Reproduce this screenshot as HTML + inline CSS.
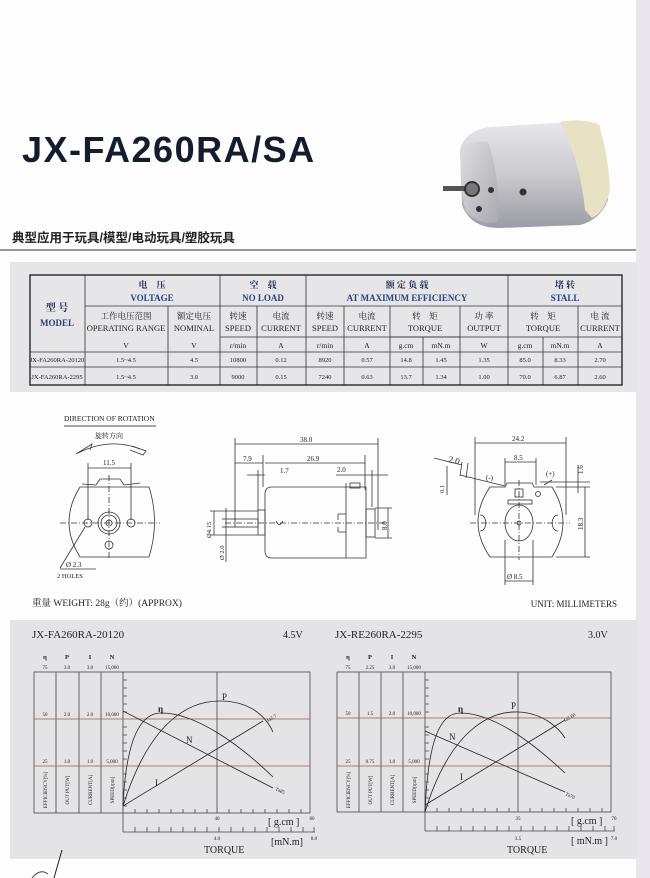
<!DOCTYPE html>
<html><head><meta charset="utf-8"><style>
html,body{margin:0;padding:0;background:#fff;}
svg{display:block;font-family:"Liberation Serif","Noto Serif CJK SC",serif;}
.s{font-family:"Liberation Sans","Noto Sans CJK SC",sans-serif;}
</style></head><body>
<svg width="650" height="878" viewBox="0 0 650 878" xmlns="http://www.w3.org/2000/svg">
<rect x="0" y="0" width="650" height="878" fill="#fdfdfd"/>
<rect x="636" y="0" width="14" height="878" fill="#e9e6ee"/>
<!-- title -->
<text x="22" y="162" class="s" font-size="36" font-weight="bold" fill="#141c2e" letter-spacing="1.5">JX-FA260RA/SA</text>
<text x="12" y="242" class="s" font-size="12.5" font-weight="bold" fill="#222">典型应用于玩具/模型/电动玩具/塑胶玩具</text>
<line x1="0" y1="250" x2="636" y2="250" stroke="#777" stroke-width="1.5"/>
<!-- motor photo -->
<defs>
<linearGradient id="mg" x1="0" y1="0" x2="0" y2="1"><stop offset="0" stop-color="#e8e8ec"/><stop offset="0.5" stop-color="#c9c9ce"/><stop offset="1" stop-color="#9c9ca4"/></linearGradient>
<linearGradient id="mf" x1="0" y1="0" x2="1" y2="1"><stop offset="0" stop-color="#dedee2"/><stop offset="1" stop-color="#a9a9b0"/></linearGradient>
</defs>
<path d="M460,150 Q465,130 490,127 L570,122 L600,125 L608,200 Q600,220 580,225 L500,228 Q470,228 462,205 Z" fill="url(#mg)"/>
<path d="M560,122 Q580,118 598,124 Q608,150 610,190 Q605,212 592,218 L585,210 Q580,160 560,122 Z" fill="#e7e2c4"/>
<path d="M462,150 Q470,140 488,142 Q500,175 498,222 Q480,226 466,212 Q458,185 462,150 Z" fill="url(#mf)"/>
<rect x="443" y="186" width="28" height="5" fill="#555"/>
<circle cx="472" cy="189" r="7" fill="#777" stroke="#333" stroke-width="2"/>
<circle cx="491" cy="190" r="3" fill="#333"/><circle cx="479" cy="209" r="3" fill="#333"/><circle cx="523" cy="192" r="3.5" fill="#333"/>
<!-- table -->
<rect x="10" y="262" width="627" height="130" fill="#e6e6e9"/>
<g fill="none" stroke="#333" stroke-width="0.8">
<rect x="30" y="275" width="592" height="110" stroke-width="1.5"/>
<line x1="85" y1="275" x2="85" y2="385"/>
<line x1="220" y1="275" x2="220" y2="385"/><line x1="306" y1="275" x2="306" y2="385"/><line x1="508" y1="275" x2="508" y2="385"/>
<line x1="85" y1="306" x2="622" y2="306"/>
<line x1="168" y1="306" x2="168" y2="385"/><line x1="257" y1="306" x2="257" y2="385"/><line x1="344" y1="306" x2="344" y2="385"/><line x1="390" y1="306" x2="390" y2="385"/>
<line x1="460" y1="306" x2="460" y2="385"/><line x1="578" y1="306" x2="578" y2="385"/>
<line x1="423" y1="337" x2="423" y2="385"/><line x1="543" y1="337" x2="543" y2="385"/>
<line x1="220" y1="337" x2="622" y2="337"/><line x1="390" y1="337" x2="460" y2="337"/>
<line x1="30" y1="352" x2="622" y2="352"/><line x1="30" y1="367" x2="622" y2="367"/>
</g>
<g font-size="9" text-anchor="middle" fill="#1e2a55" font-weight="bold">
<text x="152" y="288">电　压</text><text x="152" y="301" fill="#2b3f80">VOLTAGE</text>
<text x="263" y="288">空　载</text><text x="263" y="301" fill="#2b3f80">NO LOAD</text>
<text x="407" y="288">额 定 负 载</text><text x="407" y="301" fill="#2b3f80">AT MAXIMUM EFFICIENCY</text>
<text x="565" y="288">堵 转</text><text x="565" y="301" fill="#2b3f80">STALL</text>
<text x="57" y="311" font-size="10">型 号</text><text x="57" y="326" fill="#2b3f80">MODEL</text>
</g>
<g font-size="8.5" text-anchor="middle" fill="#222">
<text x="126" y="319">工作电压范围</text><text x="126" y="331">OPERATING RANGE</text>
<text x="194" y="319">额定电压</text><text x="194" y="331">NOMINAL</text>
<text x="238" y="319">转速</text><text x="238" y="331">SPEED</text>
<text x="281" y="319">电流</text><text x="281" y="331">CURRENT</text>
<text x="325" y="319">转速</text><text x="325" y="331">SPEED</text>
<text x="367" y="319">电流</text><text x="367" y="331">CURRENT</text>
<text x="425" y="319">转　矩</text><text x="425" y="331">TORQUE</text>
<text x="484" y="319">功 率</text><text x="484" y="331">OUTPUT</text>
<text x="543" y="319">转　矩</text><text x="543" y="331">TORQUE</text>
<text x="600" y="319">电 流</text><text x="600" y="331">CURRENT</text>
<g font-size="7.5"><text x="126" y="348">V</text><text x="194" y="348">V</text><text x="238" y="348">r/min</text><text x="281" y="348">A</text><text x="325" y="348">r/min</text><text x="367" y="348">A</text><text x="406" y="348">g.cm</text><text x="441" y="348">mN.m</text><text x="484" y="348">W</text><text x="525" y="348">g.cm</text><text x="560" y="348">mN.m</text><text x="600" y="348">A</text></g>
<g font-size="6.5"><text x="57" y="362">JX-FA260RA-20120</text><text x="126" y="362">1.5~4.5</text><text x="194" y="362">4.5</text><text x="238" y="362">10800</text><text x="281" y="362">0.12</text><text x="325" y="362">8920</text><text x="367" y="362">0.57</text><text x="406" y="362">14.8</text><text x="441" y="362">1.45</text><text x="484" y="362">1.35</text><text x="525" y="362">85.0</text><text x="560" y="362">8.33</text><text x="600" y="362">2.70</text>
<text x="57" y="379">JX-FA260RA-2295</text><text x="126" y="379">1.5~4.5</text><text x="194" y="379">3.0</text><text x="238" y="379">9000</text><text x="281" y="379">0.15</text><text x="325" y="379">7240</text><text x="367" y="379">0.63</text><text x="406" y="379">13.7</text><text x="441" y="379">1.34</text><text x="484" y="379">1.00</text><text x="525" y="379">70.0</text><text x="560" y="379">6.87</text><text x="600" y="379">2.60</text></g>
</g>
<!-- drawings -->
<g fill="none" stroke="#333" stroke-width="0.8" font-size="7" >
<text x="64" y="421" stroke="none" fill="#222" font-size="7.5">DIRECTION OF ROTATION</text>
<line x1="64" y1="426" x2="156" y2="426" stroke="#888" stroke-width="1.5"/>
<text x="95" y="438" stroke="none" fill="#222" font-size="7">旋转方向</text>
<path d="M78,453 Q110,437 140,449"/><path d="M76,454 L92,444 L90,450"/><path d="M132,446 L146,451 L143,455 L130,450"/>
<path d="M80,487 L149,487 Q160,522 149,557 L80,557 Q58,522 80,487 Z"/>
<path d="M96,485 L100,479 L120,479 L124,485"/><line x1="82" y1="484" x2="96" y2="485"/><line x1="124" y1="485" x2="140" y2="483"/>
<circle cx="88" cy="523" r="4"/><circle cx="131" cy="523" r="4"/>
<circle cx="109" cy="523" r="11"/><circle cx="109" cy="523" r="8"/><circle cx="109" cy="523" r="3"/>
<circle cx="109" cy="545" r="4"/>
<line x1="60" y1="523" x2="160" y2="523" stroke-dasharray="6,2,1,2"/><line x1="109" y1="475" x2="109" y2="560" stroke-dasharray="6,2,1,2"/>
<line x1="88" y1="463" x2="88" y2="520"/><line x1="131" y1="463" x2="131" y2="520"/><line x1="88" y1="468" x2="131" y2="468"/>
<text x="103" y="465" stroke="none" fill="#222">11.5</text>
<line x1="85" y1="527" x2="60" y2="568"/><line x1="60" y1="569" x2="96" y2="569"/>
<text x="66" y="567" stroke="none" fill="#222">Ø 2.3</text><text x="57" y="578" stroke="none" fill="#222" font-size="6.5">2 HOLES</text>
<!-- side -->
<line x1="235" y1="438" x2="235" y2="520"/><line x1="378" y1="438" x2="378" y2="530"/>
<line x1="235" y1="444" x2="378" y2="444"/><text x="300" y="442" stroke="none" fill="#222">38.0</text>
<line x1="235" y1="463" x2="263" y2="463"/><text x="243" y="461" stroke="none" fill="#222">7.9</text>
<line x1="265" y1="463" x2="365" y2="463"/><text x="307" y="461" stroke="none" fill="#222">26.9</text>
<line x1="263" y1="455" x2="263" y2="487"/><line x1="365" y1="455" x2="365" y2="490"/>
<line x1="247" y1="475" x2="265" y2="475"/><text x="280" y="473" stroke="none" fill="#222">1.7</text><line x1="258" y1="470" x2="258" y2="510"/>
<line x1="336" y1="475" x2="388" y2="475"/><text x="337" y="472" stroke="none" fill="#222">2.0</text><line x1="372" y1="470" x2="372" y2="507"/>
<path d="M272,487 L366,487 L366,558 L272,558 Q265,558 265,551 L265,494 Q265,487 272,487 Z"/>
<line x1="346" y1="483" x2="346" y2="558"/><rect x="350" y="483" width="10" height="5"/>
<rect x="235" y="519" width="23" height="8"/><rect x="258" y="510" width="7" height="25"/>
<rect x="366" y="509" width="9" height="28"/><path d="M338,514 L346,514 M338,532 L346,532 M338,514 L338,520 M338,527 L338,532"/>
<path d="M276,521 Q279,528 283,521"/>
<line x1="225" y1="523" x2="385" y2="523" stroke-dasharray="6,2,1,2"/>
<line x1="210" y1="511" x2="258" y2="511"/><line x1="210" y1="535" x2="258" y2="535"/><line x1="214" y1="511" x2="214" y2="535"/>
<text x="0" y="0" stroke="none" fill="#222" font-size="6.5" transform="translate(211,538) rotate(-90)">Ø4.15</text>
<line x1="222" y1="519" x2="235" y2="519"/><line x1="222" y1="527" x2="235" y2="527"/><line x1="226" y1="508" x2="226" y2="562"/>
<text x="0" y="0" stroke="none" fill="#222" font-size="6.5" transform="translate(224,560) rotate(-90)">Ø 2.0</text>
<line x1="375" y1="508" x2="392" y2="508"/><line x1="375" y1="538" x2="392" y2="538"/><line x1="388" y1="508" x2="388" y2="538"/>
<text x="0" y="0" stroke="none" fill="#222" transform="translate(387,530) rotate(-90)">8.0</text>
<!-- right end -->
<path d="M490,487 L505,487 L507,483 L532,483 L534,487 L552,487 Q574,522 552,557 L490,557 Q466,522 490,487 Z"/>
<line x1="475" y1="437" x2="475" y2="515"/><line x1="566" y1="437" x2="566" y2="515"/>
<line x1="475" y1="443" x2="566" y2="443"/><text x="512" y="441" stroke="none" fill="#222">24.2</text>
<line x1="505" y1="458" x2="505" y2="485"/><line x1="536" y1="458" x2="536" y2="485"/><line x1="505" y1="462" x2="536" y2="462"/><text x="514" y="460" stroke="none" fill="#222">8.5</text>
<line x1="460" y1="475" x2="505" y2="486"/><line x1="544" y1="485" x2="552" y2="480"/>
<text x="486" y="480" stroke="none" fill="#222">(-)</text><text x="546" y="476" stroke="none" fill="#222">(+)</text>
<line x1="434" y1="458" x2="462" y2="465"/><text x="448" y="462" stroke="none" fill="#222" font-size="9" transform="rotate(12 448 462)">2.0</text>
<line x1="462" y1="462" x2="460" y2="476"/><line x1="468" y1="463" x2="466" y2="478"/>
<line x1="447" y1="466" x2="447" y2="495"/><text x="0" y="0" stroke="none" fill="#222" font-size="6.5" transform="translate(444,493) rotate(-90)">0.1</text>
<rect x="515" y="489" width="8" height="8"/><rect x="508" y="500" width="24" height="4"/><circle cx="538" cy="494" r="2.5"/>
<ellipse cx="519" cy="523" rx="14" ry="18"/><circle cx="519" cy="523" r="2"/>
<path d="M480,515 Q485,515 486,523 Q485,531 480,531"/><path d="M558,515 Q553,515 552,523 Q553,531 558,531"/>
<line x1="470" y1="523" x2="570" y2="523" stroke-dasharray="6,2,1,2"/><line x1="519" y1="480" x2="519" y2="560" stroke-dasharray="6,2,1,2"/>
<line x1="505" y1="540" x2="505" y2="585"/><line x1="533" y1="540" x2="533" y2="585"/><line x1="505" y1="581" x2="533" y2="581"/>
<text x="507" y="579" stroke="none" fill="#222">Ø 8.5</text>
<line x1="540" y1="482" x2="590" y2="482"/><line x1="556" y1="487" x2="590" y2="487"/><line x1="556" y1="557" x2="590" y2="557"/>
<line x1="585" y1="487" x2="585" y2="557"/><line x1="578" y1="465" x2="578" y2="493"/>
<text x="0" y="0" stroke="none" fill="#222" transform="translate(583,530) rotate(-90)">18.3</text>
<text x="0" y="0" stroke="none" fill="#222" transform="translate(583,474) rotate(-90)">1.6</text>
</g>
<text x="32" y="606" font-size="9.5" fill="#222">重量 WEIGHT: 28g（约）(APPROX)</text>
<text x="617" y="607" font-size="9" fill="#222" text-anchor="end">UNIT: MILLIMETERS</text>
<!-- charts -->
<rect x="10" y="620" width="627" height="239" fill="#e4e4e6"/>
<g id="c1">
<text x="32" y="638" font-size="11" fill="#222">JX-FA260RA-20120</text><text x="283" y="638" font-size="10" fill="#222">4.5V</text>
<g fill="none" stroke="#444" stroke-width="0.8">
<rect x="34" y="672" width="276" height="141"/>
<line x1="56" y1="672" x2="56" y2="813"/><line x1="79" y1="672" x2="79" y2="813"/><line x1="101" y1="672" x2="101" y2="813"/><line x1="123" y1="672" x2="123" y2="832"/>
<line x1="34" y1="719" x2="310" y2="719" stroke="#9a5a5a"/><line x1="34" y1="766" x2="310" y2="766" stroke="#9a5a5a"/>
<line x1="217" y1="672" x2="217" y2="813"/>
<line x1="123" y1="832" x2="315" y2="832"/>
<path d="M123,711 L273,788 M123,806 L263,721 M123,806 C126,740 140,714 160,713 C195,712 240,745 273,777 M123,806 C150,720 190,700 222,701 C250,702 265,715 273,732" stroke="#222"/>
<path d="M123,680h4M123,688h4M123,696h4M123,704h4M123,712h4M123,727h4M123,735h4M123,743h4M123,751h4M123,759h4M123,774h4M123,782h4M123,790h4M123,798h4M123,806h4"/>
<path d="M135,813v-4M147,813v-4M159,813v-4M171,813v-4M183,813v-4M195,813v-4M207,813v-4M229,813v-4M241,813v-4M253,813v-4M265,813v-4M277,813v-4M289,813v-4M301,813v-4"/>
<path d="M135,832v-5M147,832v-5M159,832v-5M171,832v-5M183,832v-5M195,832v-5M207,832v-5M219,832v-5M231,832v-5M243,832v-5M255,832v-5M267,832v-5M279,832v-5M291,832v-5M303,832v-5M314,832v-5"/>
</g>
<g font-size="5" fill="#222" text-anchor="middle">
<text x="45" y="659" font-size="6.5" font-weight="bold">η</text><text x="67" y="659" font-size="6.5" font-weight="bold">P</text><text x="90" y="659" font-size="6.5" font-weight="bold">I</text><text x="112" y="659" font-size="6.5" font-weight="bold">N</text>
<text x="45" y="669">75</text><text x="67" y="669">3.0</text><text x="90" y="669">3.0</text><text x="112" y="669">15,000</text>
<text x="45" y="716">50</text><text x="67" y="716">2.0</text><text x="90" y="716">2.0</text><text x="112" y="716">10,000</text>
<text x="45" y="763">25</text><text x="67" y="763">1.0</text><text x="90" y="763">1.0</text><text x="112" y="763">5,000</text>
<text transform="translate(47,790) rotate(-90)">EFFICIENCY[%]</text><text transform="translate(69,790) rotate(-90)">OUT PUT[W]</text><text transform="translate(92,790) rotate(-90)">CURRENT[A]</text><text transform="translate(114,790) rotate(-90)">SPEED[rpm]</text>
<text x="217" y="820">40</text><text x="217" y="840">4.0</text><text x="312" y="820">80</text><text x="314" y="840">8.0</text>
</g>
<g font-size="9" fill="#222"><text x="158" y="712" font-weight="bold">η</text><text x="222" y="700">P</text><text x="186" y="743">N</text><text x="155" y="786">I</text>
<text x="268" y="722" font-size="5" transform="rotate(-30 268 722)">Ia2.7</text><text x="275" y="790" font-size="5" transform="rotate(25 275 790)">Ta85</text>
<text x="268" y="825" font-size="10">[ g.cm ]</text><text x="271" y="845" font-size="10">[mN.m]</text><text x="204" y="853" font-size="10">TORQUE</text></g>
</g>
<g id="c2">
<text x="335" y="638" font-size="11" fill="#222">JX-RE260RA-2295</text><text x="588" y="638" font-size="10" fill="#222">3.0V</text>
<g fill="none" stroke="#444" stroke-width="0.8">
<rect x="337" y="672" width="274" height="140"/>
<line x1="359" y1="672" x2="359" y2="812"/><line x1="381" y1="672" x2="381" y2="812"/><line x1="403" y1="672" x2="403" y2="812"/><line x1="425" y1="672" x2="425" y2="831"/>
<line x1="337" y1="718" x2="611" y2="718" stroke="#9a5a5a"/><line x1="337" y1="766" x2="611" y2="766" stroke="#9a5a5a"/>
<line x1="518" y1="672" x2="518" y2="812"/>
<line x1="425" y1="831" x2="615" y2="831"/>
<path d="M425,731 L565,792 M425,805 L565,720 M425,812 C428,740 440,713 460,713 C495,713 535,745 565,773 M425,812 C450,730 490,711 518,712 C545,713 560,730 565,738" stroke="#222"/>
<path d="M425,680h4M425,688h4M425,696h4M425,704h4M425,712h4M425,727h4M425,735h4M425,743h4M425,751h4M425,759h4M425,774h4M425,782h4M425,790h4M425,798h4M425,806h4"/>
<path d="M437,812v-4M449,812v-4M461,812v-4M473,812v-4M485,812v-4M497,812v-4M509,812v-4M530,812v-4M542,812v-4M554,812v-4M566,812v-4M578,812v-4M590,812v-4M602,812v-4"/>
<path d="M437,831v-5M449,831v-5M461,831v-5M473,831v-5M485,831v-5M497,831v-5M509,831v-5M521,831v-5M533,831v-5M545,831v-5M557,831v-5M569,831v-5M581,831v-5M593,831v-5M605,831v-5M614,831v-5"/>
</g>
<g font-size="5" fill="#222" text-anchor="middle">
<text x="348" y="659" font-size="6.5" font-weight="bold">η</text><text x="370" y="659" font-size="6.5" font-weight="bold">P</text><text x="392" y="659" font-size="6.5" font-weight="bold">I</text><text x="414" y="659" font-size="6.5" font-weight="bold">N</text>
<text x="348" y="669">75</text><text x="370" y="669">2.25</text><text x="392" y="669">3.0</text><text x="414" y="669">15,000</text>
<text x="348" y="715">50</text><text x="370" y="715">1.5</text><text x="392" y="715">2.0</text><text x="414" y="715">10,000</text>
<text x="348" y="763">25</text><text x="370" y="763">0.75</text><text x="392" y="763">1.0</text><text x="414" y="763">5,000</text>
<text transform="translate(350,790) rotate(-90)">EFFICIENCY[%]</text><text transform="translate(372,790) rotate(-90)">OUT PUT[W]</text><text transform="translate(394,790) rotate(-90)">CURRENT[A]</text><text transform="translate(416,790) rotate(-90)">SPEED[rpm]</text>
<text x="518" y="820">35</text><text x="518" y="840">3.5</text><text x="614" y="820">70</text><text x="614" y="840">7.0</text>
</g>
<g font-size="9" fill="#222"><text x="458" y="712" font-weight="bold">η</text><text x="511" y="709">P</text><text x="449" y="740">N</text><text x="460" y="780">I</text>
<text x="565" y="722" font-size="5" transform="rotate(-30 565 722)">Ia2.60</text><text x="565" y="795" font-size="5" transform="rotate(25 565 795)">Ta70</text>
<text x="571" y="824" font-size="10">[ g.cm ]</text><text x="571" y="844" font-size="10">[ mN.m ]</text><text x="507" y="853" font-size="10">TORQUE</text></g>
</g>
<path d="M62,850 L54,878" stroke="#222" fill="none"/><path d="M32,878 Q40,868 48,874" stroke="#444" fill="none"/>
</svg>
</body></html>
